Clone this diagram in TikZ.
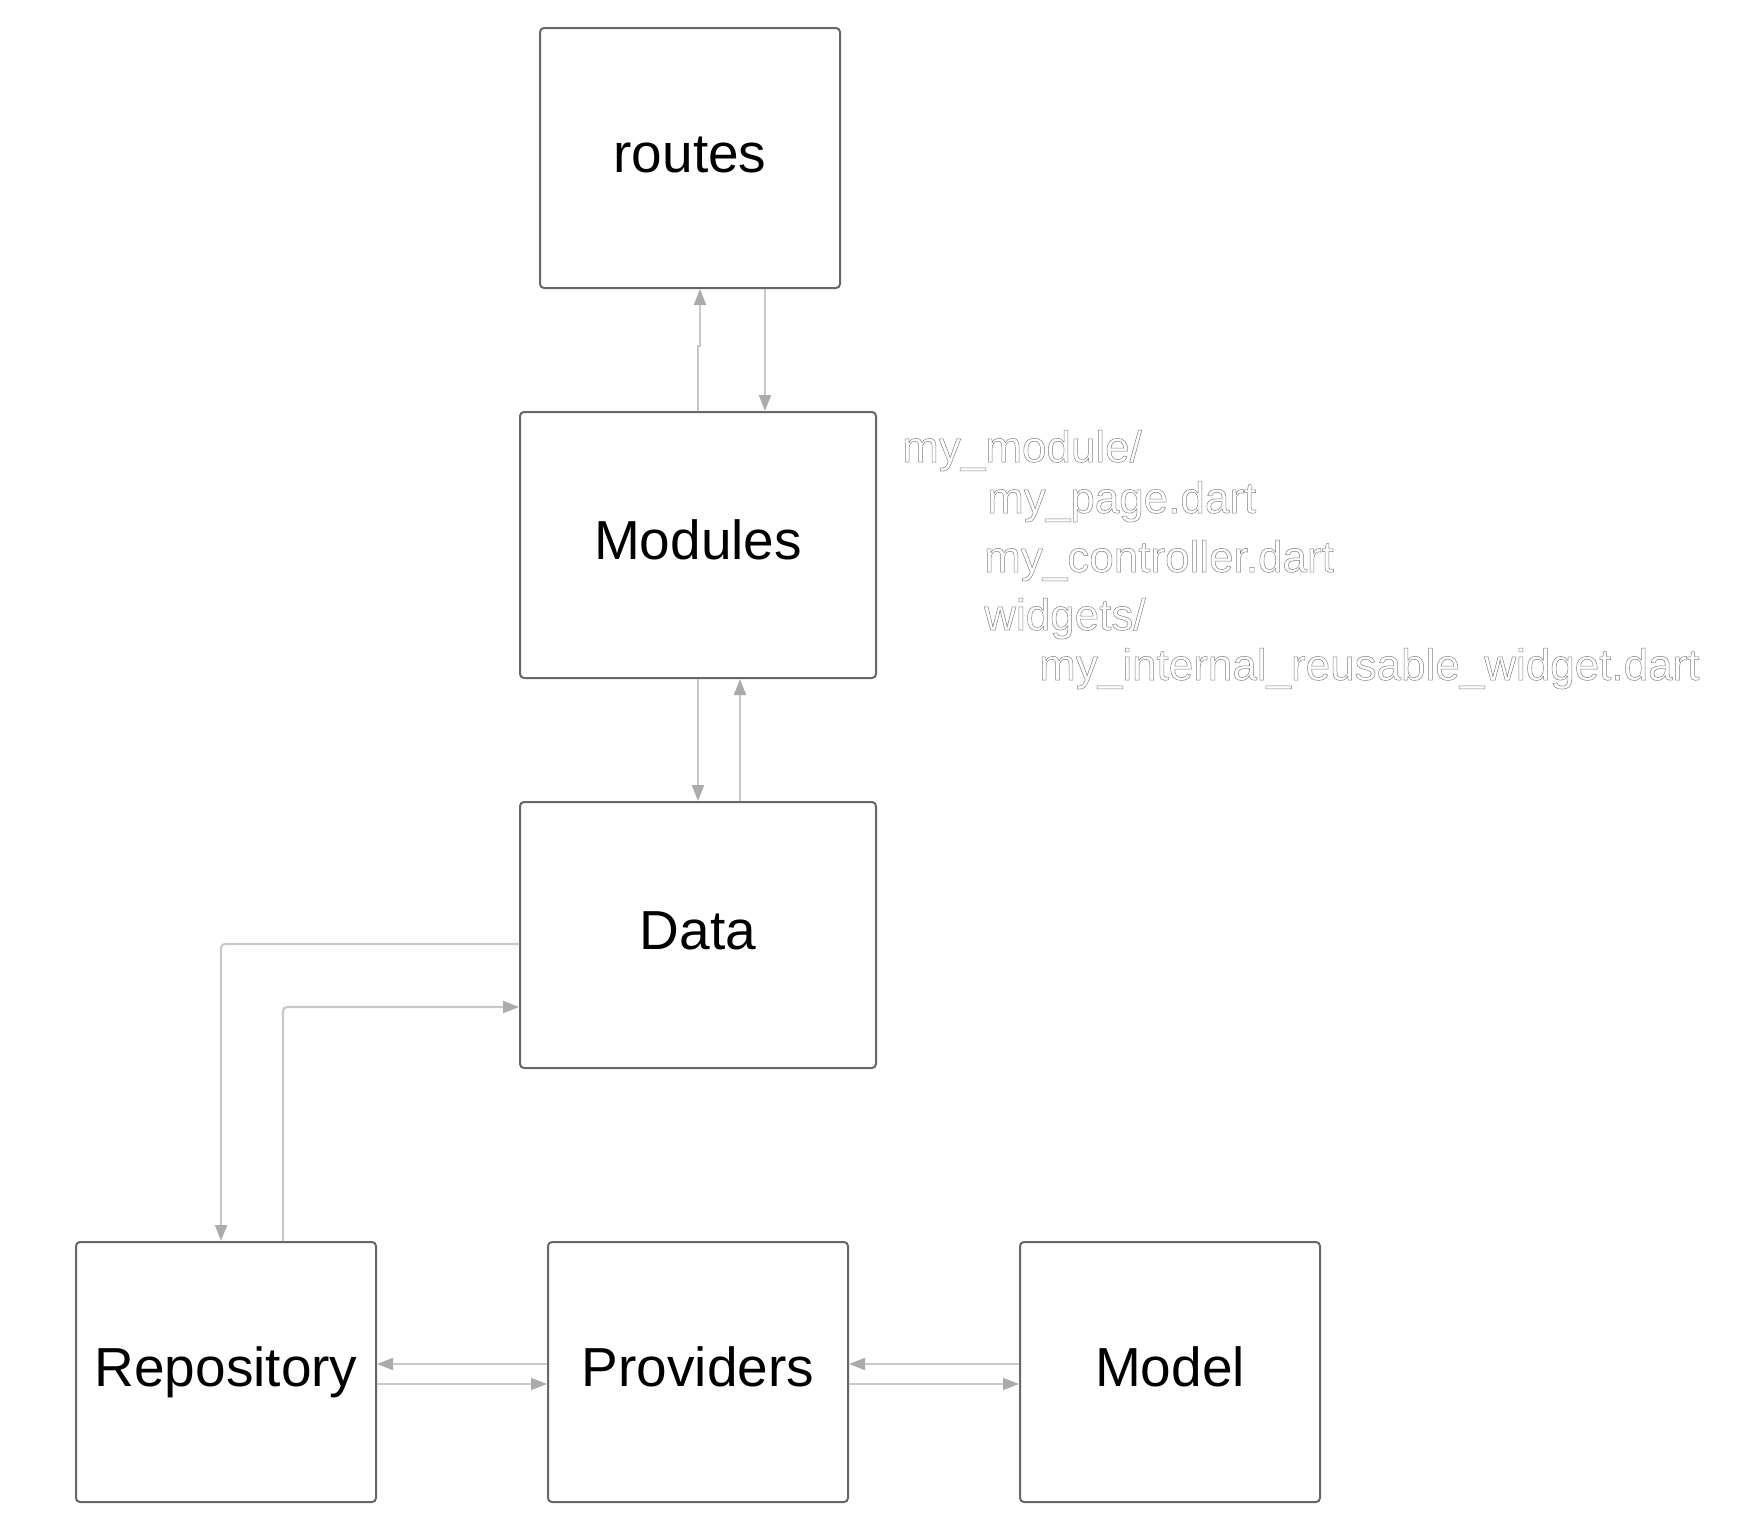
\documentclass[tikz,border=0pt]{standalone}
\usepackage{fontspec}
\setmainfont{Liberation Sans}
\usetikzlibrary{arrows.meta}
\definecolor{boxc}{HTML}{676767}
\definecolor{connc}{HTML}{C8C8C8}
\definecolor{tipc}{HTML}{ABABAB}
\newcommand\outltext[1]{\special{pdf:code 2 Tr 0.5 w 0.5 G}#1\special{pdf:code 0 Tr}}
\begin{document}
\begin{tikzpicture}[x=1pt,y=-1pt,
  block/.style={draw=boxc,line width=2pt,rounded corners=4pt,minimum width=300pt,minimum height=260pt,inner sep=0pt,text height=40pt,text depth=11pt,font=\fontsize{55}{66}\selectfont},
  wide/.style={block,minimum width=356pt,minimum height=266pt},
  conn/.style={draw=connc,line width=2.2pt,rounded corners=4pt,-{Triangle[length=16pt,width=12pt,color=tipc]}},
  tree/.style={anchor=base west,inner sep=0pt,text=white,font=\fontsize{44}{50}\selectfont}]
\useasboundingbox (0,0) rectangle (1739,1537);
\node[block] (routes) at (690,158) {routes};
\node[wide] (modules) at (698,545) {Modules};
\node[wide] (data) at (698,935) {Data};
\node[block] (repo) at (226,1372) {Repository};
\node[block] (prov) at (698,1372) {Providers};
\node[block] (model) at (1170,1372) {Model};

\node[tree] (t1) at (902,462) {\outltext{my\_module/}};
\node[tree] (t2) at (987,513) {\outltext{my\_page.dart}};
\node[tree] (t3) at (984,572) {\outltext{my\_controller.dart}};
\node[tree] (t4) at (984,630) {\outltext{widgets/}};
\node[tree] (t5) at (1039,680) {\outltext{my\_internal\_reusable\_widget.dart}};

\draw[conn,sharp corners] (modules.north) -- ++(0,-65) -- ++(2,0) -- ([xshift=10pt]routes.south);
\draw[conn] ([xshift=75pt]routes.south) -- ([xshift=67pt]modules.north);
\draw[conn] (modules.south) -- (data.north);
\draw[conn] ([xshift=42pt]data.north) -- ([xshift=42pt]modules.south);
\draw[conn] ([yshift=-9pt]data.west) -| ([xshift=-5pt]repo.north);
\draw[conn] ([xshift=57pt]repo.north) |- ([yshift=-72pt]data.west);
\draw[conn] ([yshift=8pt]prov.west) -- ([yshift=8pt]repo.east);
\draw[conn] ([yshift=-12pt]repo.east) -- ([yshift=-12pt]prov.west);
\draw[conn] ([yshift=8pt]model.west) -- ([yshift=8pt]prov.east);
\draw[conn] ([yshift=-12pt]prov.east) -- ([yshift=-12pt]model.west);
\end{tikzpicture}
\end{document}
